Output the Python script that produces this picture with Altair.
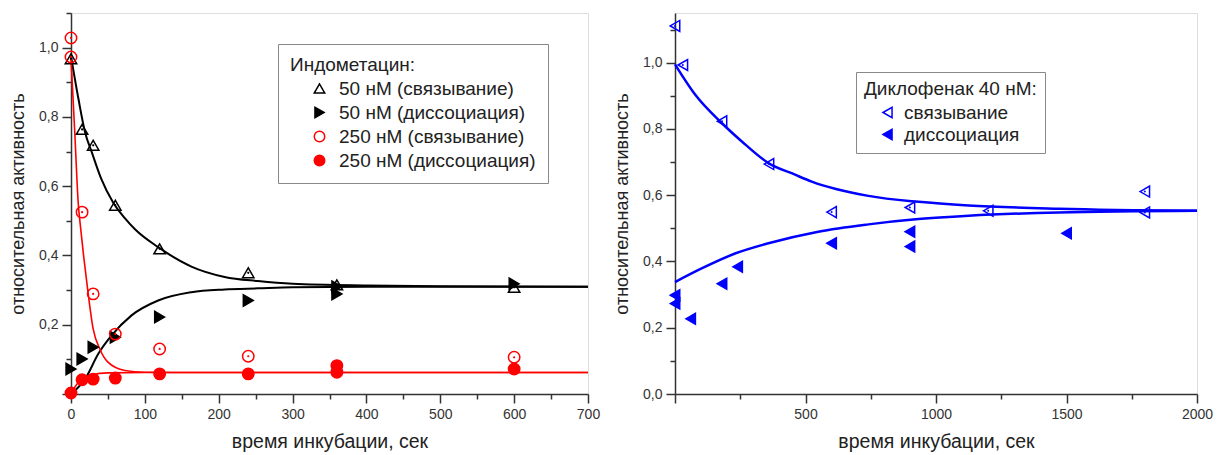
import altair as alt
import pandas as pd

FONT = "Liberation Sans"

# ---------------- Left panel: Индометацин ----------------
L_names = ["50 нМ (связывание)", "50 нМ (диссоциация)", "250 нМ (связывание)", "250 нМ (диссоциация)"]

L_b50_t = [0, 15, 30, 60, 120, 240, 360, 600]
L_b50_v = [0.968, 0.764, 0.718, 0.545, 0.419, 0.35, 0.315, 0.308]
L_d50_t = [0, 15, 30, 60, 120, 240, 360, 360, 600]
L_d50_v = [0.072, 0.101, 0.135, 0.164, 0.222, 0.27, 0.31, 0.289, 0.318]
L_b250_t = [0, 0, 15, 30, 60, 120, 240, 600]
L_b250_v = [1.028, 0.973, 0.525, 0.289, 0.173, 0.13, 0.109, 0.106]
L_d250_t = [0, 15, 30, 60, 120, 240, 360, 360, 600]
L_d250_v = [0.003, 0.041, 0.043, 0.046, 0.058, 0.058, 0.082, 0.063, 0.072]

# fitted curves
C_b50_t = [0, 10, 19, 28, 41, 57, 72, 87, 118, 163, 208, 253, 300, 400, 500, 700]
C_b50_v = [0.975, 0.853, 0.756, 0.699, 0.621, 0.553, 0.51, 0.475, 0.424, 0.368, 0.338, 0.326, 0.318, 0.313, 0.311, 0.31]
C_d50_t = [0, 19, 37, 55, 82, 118, 163, 208, 253, 300, 400, 700]
C_d50_v = [0.0, 0.043, 0.116, 0.169, 0.227, 0.27, 0.294, 0.302, 0.305, 0.308, 0.31, 0.31]
C_b250_t = [0, 5, 10, 12, 17, 23, 30, 39, 50, 73, 100, 150, 700]
C_b250_v = [0.97, 0.76, 0.545, 0.5, 0.40, 0.294, 0.188, 0.13, 0.092, 0.068, 0.063, 0.062, 0.062]
C_d250_t = [0, 14, 28, 50, 100, 700]
C_d250_v = [0.003, 0.043, 0.055, 0.061, 0.062, 0.062]

# ---------------- Right panel: Диклофенак ----------------
R_names = ["связывание", "диссоциация"]
R_b_t = [0, 30, 180, 360, 600, 900, 1200, 1800, 1800]
R_b_v = [1.111, 0.993, 0.823, 0.694, 0.549, 0.563, 0.553, 0.611, 0.548]
R_d_t = [0, 0, 60, 180, 240, 600, 900, 900, 1500]
R_d_v = [0.298, 0.273, 0.227, 0.333, 0.384, 0.455, 0.49, 0.445, 0.485]

CR_b_t = [0, 77, 179, 255, 358, 460, 524, 741, 933, 1125, 1470, 2000]
CR_b_v = [0.995, 0.904, 0.818, 0.763, 0.697, 0.662, 0.641, 0.598, 0.58, 0.569, 0.559, 0.553]
CR_d_t = [0, 102, 230, 358, 549, 741, 933, 1125, 1470, 2000]
CR_d_v = [0.338, 0.379, 0.424, 0.455, 0.49, 0.512, 0.528, 0.538, 0.548, 0.553]


def pts(names, ts, vs):
    rows = []
    for n, t, v in zip(names, ts, vs):
        rows += [{"t": a, "v": b, "series": n} for a, b in zip(t, v)]
    return pd.DataFrame(rows)


L_pts = pts(L_names, [L_b50_t, L_d50_t, L_b250_t, L_d250_t], [L_b50_v, L_d50_v, L_b250_v, L_d250_v])
L_black_curves = pts(["b", "d"], [C_b50_t, C_d50_t], [C_b50_v, C_d50_v])
L_red_curves = pts(["b", "d"], [C_b250_t, C_d250_t], [C_b250_v, C_d250_v])
L_dots_k = pts(["k"], [L_b50_t], [L_b50_v])
L_dots_r = pts(["r"], [L_b250_t], [L_b250_v])

R_pts = pts(R_names, [R_b_t, R_d_t], [R_b_v, R_d_v])
R_curves = pts(["b", "d"], [CR_b_t, CR_d_t], [CR_b_v, CR_d_v])
R_dots = pts(["b"], [R_b_t], [R_b_v])

AX = dict(grid=False, domainColor="#333", domainWidth=1.5, tickColor="#333", tickWidth=1.5,
          labelFont=FONT, labelFontSize=14, labelColor="#333",
          titleFont=FONT, titleFontWeight="normal", titleColor="#222")


def x_axis(maxv, step, major, show_zero):
    vals = list(range(0, maxv + 1, step))
    zero = "" if show_zero else " && datum.value > 0"
    return alt.Axis(values=vals, title="время инкубации, сек", format="d", titleFontSize=19.5,
                    labelExpr=f"(datum.value % {major} == 0{zero}) ? datum.label : ''",
                    tickSize={"condition": {"test": f"datum.value % {major} == 0", "value": 9}, "value": 5},
                    labelPadding=4, titlePadding=11, labelFlush=False, **AX)


def y_axis(show_zero):
    vals = [round(i * 0.1, 1) for i in range(12)]
    zero = "" if show_zero else " && datum.value > 0.05"
    return alt.Axis(values=vals, title="относительная активность", titleFontSize=18,
                    labelExpr=f"(round(datum.value*10) % 2 == 0{zero}) ? replace(format(datum.value, '.1f'), '.', ',') : ''",
                    tickSize={"condition": {"test": "round(datum.value*10) % 2 == 0", "value": 9}, "value": 5},
                    labelPadding=4, titlePadding=11, labelFlush=False, **AX)


def legend(title, x, y, pad, soff, loff, rowpad):
    return alt.Legend(title=title, orient="none", legendX=x, legendY=y,
                      titleFont=FONT, titleFontSize=19, titleFontWeight="normal", titleColor="#222",
                      labelFont=FONT, labelFontSize=19, labelColor="#222", labelLimit=400, titleLimit=400,
                      padding=pad, strokeColor="#888", fillColor="white", cornerRadius=0,
                      symbolOffset=soff, symbolSize=110, symbolStrokeWidth=1.5,
                      rowPadding=rowpad, labelOffset=loff, titlePadding=4)


# ---- left chart ----
Lx = alt.X("t:Q", scale=alt.Scale(domain=[0, 700], nice=False, zero=False), axis=x_axis(700, 50, 100, True))
Ly = alt.Y("v:Q", scale=alt.Scale(domain=[0, 1.1], nice=False), axis=y_axis(False))

l_black = alt.Chart(L_black_curves).mark_line(color="black", strokeWidth=2, interpolate="monotone").encode(
    x=Lx, y=Ly, detail="series:N")
l_red = alt.Chart(L_red_curves).mark_line(color="#ff0000", strokeWidth=1.6, interpolate="monotone").encode(
    x=Lx, y=Ly, detail="series:N")
L_leg = legend("Индометацин:", 207, 31, 12, 20, 10, 4)
l_points = alt.Chart(L_pts).mark_point(filled=False, size=130, strokeWidth=1.5, opacity=1).encode(
    x=Lx, y=Ly,
    color=alt.Color("series:N", scale=alt.Scale(domain=L_names, range=["black", "black", "#ff0000", "#ff0000"]), legend=L_leg),
    shape=alt.Shape("series:N", scale=alt.Scale(domain=L_names, range=["triangle-up", "triangle-right", "circle", "circle"]), legend=L_leg),
    fill=alt.Fill("series:N", scale=alt.Scale(domain=L_names, range=["transparent", "black", "transparent", "#ff0000"]), legend=L_leg),
)
l_dots_k = alt.Chart(L_dots_k).mark_point(filled=True, size=5, opacity=1, color="black").encode(x=Lx, y=Ly)
l_dots_r = alt.Chart(L_dots_r).mark_point(filled=True, size=5, opacity=1, color="#ff0000").encode(x=Lx, y=Ly)

left = alt.layer(l_black, l_red, l_points, l_dots_k, l_dots_r).properties(width=517, height=381)

# ---- right chart ----
Rx = alt.X("t:Q", scale=alt.Scale(domain=[0, 2000], nice=False, zero=False), axis=x_axis(2000, 250, 500, False))
Ry = alt.Y("v:Q", scale=alt.Scale(domain=[0, 1.15], nice=False), axis=y_axis(True))

r_lines = alt.Chart(R_curves).mark_line(color="#0000ff", strokeWidth=2.5, interpolate="monotone").encode(
    x=Rx, y=Ry, detail="series:N")
R_leg = legend("Диклофенак 40 нМ:", 181, 59, 8, 14, 7, 2)
r_points = alt.Chart(R_pts).mark_point(filled=False, size=120, strokeWidth=1.5, opacity=1).encode(
    x=Rx, y=Ry,
    color=alt.Color("series:N", scale=alt.Scale(domain=R_names, range=["#0000ff", "#0000ff"]), legend=R_leg),
    shape=alt.Shape("series:N", scale=alt.Scale(domain=R_names, range=["triangle-left", "triangle-left"]), legend=R_leg),
    fill=alt.Fill("series:N", scale=alt.Scale(domain=R_names, range=["transparent", "#0000ff"]), legend=R_leg),
)
r_dots = alt.Chart(R_dots).mark_point(filled=True, size=4, opacity=1, color="#0000ff").encode(x=Rx, y=Ry)

right = alt.layer(r_lines, r_points, r_dots).properties(width=522, height=381)

chart = alt.hconcat(left, right, spacing=12).resolve_scale(
    x="independent", y="independent", color="independent", shape="independent", fill="independent"
).resolve_legend(color="independent", shape="independent", fill="independent").properties(
    padding={"left": 9, "top": 11, "right": 5, "bottom": 5}
).configure_view(stroke=None).configure(background="white")

chart.save("out.html", embed_options={"renderer": "svg", "actions": False})
